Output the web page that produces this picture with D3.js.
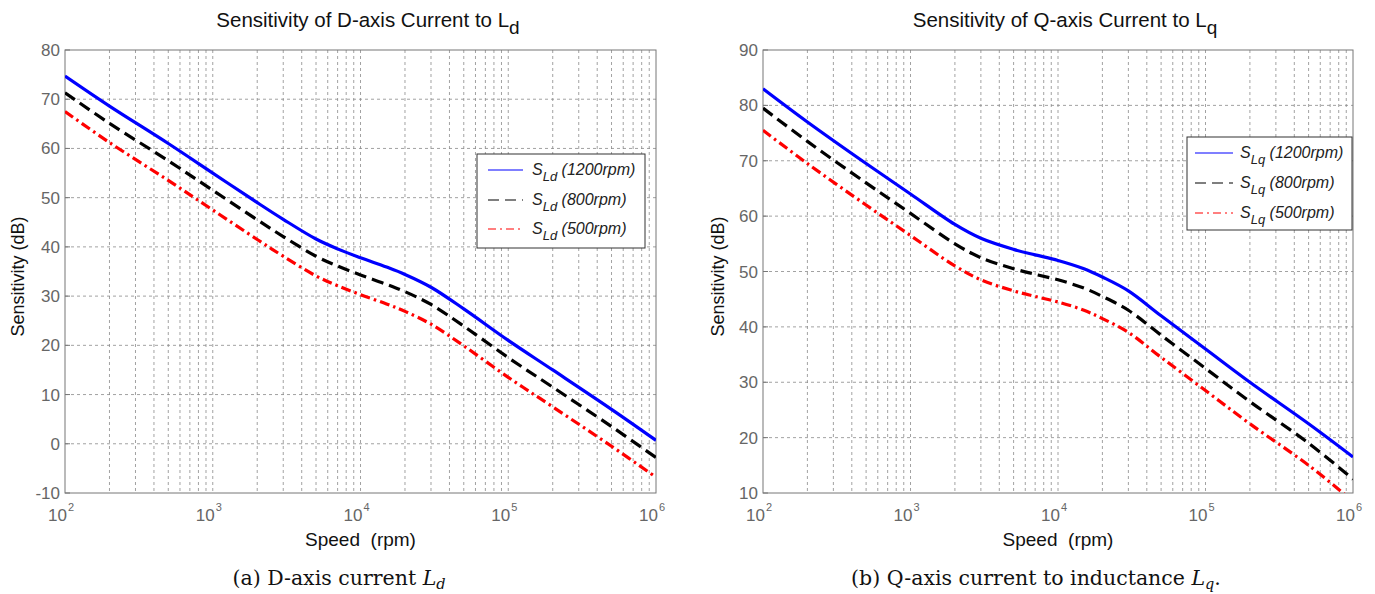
<!DOCTYPE html>
<html><head><meta charset="utf-8">
<script src="https://cdn.jsdelivr.net/npm/d3@7"></script>
<style>
body{margin:0;background:#fff;}
svg text{font-family:Arial,"Liberation Sans",sans-serif;}
</style></head>
<body>
<svg id="chart" width="1375" height="594"></svg>
<script>
// ---------- data ----------
const speeds = [100, 200, 500, 1000, 2000, 3000, 5000, 7000, 10000, 15000, 20000, 30000, 50000, 100000, 200000, 500000, 1000000];

const ld1200 = [74.7, 68.6, 61, 55, 49, 45.6, 41.6, 39.6, 37.8, 35.9, 34.4, 31.8, 27.4, 21, 15, 7, 0.7];
const ld800  = [71.3, 65.1, 57.5, 51.5, 45.5, 42.1, 38.1, 36.1, 34.3, 32.4, 30.9, 28.3, 23.9, 17.5, 11.5, 3.5, -2.8];
const ld500  = [67.5, 61.2, 53.5, 47.5, 41.5, 38.1, 34.1, 32.1, 30.3, 28.4, 26.9, 24.3, 19.9, 13.5, 7.5, -0.5, -6.8];

const lq1200 = [83, 77, 69.5, 64, 58.5, 56, 54, 53, 52, 50.5, 49, 46.5, 42, 36, 30, 22.5, 16.5];
const lq800  = [79.5, 73.5, 66, 60.5, 55, 52.5, 50.5, 49.5, 48.5, 47, 45.5, 43, 38.5, 32.5, 26.5, 19, 12.5];
const lq500  = [75.5, 69.5, 62, 56.5, 51, 48.5, 46.5, 45.5, 44.5, 43, 41.5, 39, 34.5, 28.5, 22.5, 15, 8.5];

const xTickExps = [2, 3, 4, 5, 6];
const ldYTicks = [-10, 0, 10, 20, 30, 40, 50, 60, 70, 80];
const lqYTicks = [10, 20, 30, 40, 50, 60, 70, 80, 90];
const seriesLabels = ["(1200rpm)", "(800rpm)", "(500rpm)"];

// ---------- drawing ----------
const svg = d3.select("#chart");
const styles = [
  {color: "#0000ff", dash: null, lw: 3.2, legDash: null},
  {color: "#000000", dash: "12,6", lw: 3.2, legDash: "11,6"},
  {color: "#ff0000", dash: "10,4,2.5,4", lw: 3.2, legDash: "8,4,2,4"}
];

function panel(opt) {
  const g = svg.append("g");
  const x = d3.scaleLog().domain([100, 1e6]).range([opt.x0, opt.x1]);
  const y = d3.scaleLinear().domain(opt.yDomain).range([opt.y1, opt.y0]);
  const clipId = "clip" + opt.id;
  svg.append("clipPath").attr("id", clipId).append("rect")
    .attr("x", opt.x0).attr("y", opt.y0).attr("width", opt.x1 - opt.x0).attr("height", opt.y1 - opt.y0);

  // vertical grid (log minor)
  const vgrid = [];
  for (let e = 2; e < 6; e++) for (let m = 1; m < 10; m++) vgrid.push(m * Math.pow(10, e));
  g.append("g").selectAll("line").data(vgrid.filter(v => v > 100)).join("line")
    .attr("x1", d => x(d)).attr("x2", d => x(d)).attr("y1", opt.y0).attr("y2", opt.y1)
    .attr("stroke", "#8a8a8a").attr("stroke-width", 0.8).attr("stroke-dasharray", "3,3");
  // horizontal grid
  g.append("g").selectAll("line").data(opt.yTicks.slice(1, -1)).join("line")
    .attr("x1", opt.x0).attr("x2", opt.x1).attr("y1", d => y(d)).attr("y2", d => y(d))
    .attr("stroke", "#8a8a8a").attr("stroke-width", 0.8).attr("stroke-dasharray", "3,3");

  // frame
  g.append("rect").attr("x", opt.x0).attr("y", opt.y0).attr("width", opt.x1 - opt.x0).attr("height", opt.y1 - opt.y0)
    .attr("fill", "none").attr("stroke", "#777").attr("stroke-width", 1);

  // y tick labels
  g.append("g").selectAll("text").data(opt.yTicks).join("text")
    .attr("x", opt.x0 - 5).attr("y", d => y(d) + 6).attr("text-anchor", "end")
    .attr("font-size", 17).attr("fill", "#666").text(d => d);
  // y ticks
  g.append("g").selectAll("line").data(opt.yTicks).join("line")
    .attr("x1", opt.x0).attr("x2", opt.x0 + 5).attr("y1", d => y(d)).attr("y2", d => y(d)).attr("stroke", "#777");

  // x tick labels 10^n
  const xt = g.append("g").selectAll("text").data(xTickExps).join("text")
    .attr("x", d => x(Math.pow(10, d)) - 4).attr("y", opt.y1 + 28).attr("text-anchor", "middle")
    .attr("font-size", 17).attr("fill", "#666");
  xt.append("tspan").text("10");
  xt.append("tspan").attr("dy", -10).attr("dx", 1).attr("font-size", 11).text(d => d);

  // lines
  const line = d3.line().x(d => x(d[0])).y(d => y(d[1])).curve(d3.curveCatmullRom.alpha(0.5));
  opt.series.forEach((vals, i) => {
    const pts = speeds.map((s, k) => [s, vals[k]]);
    g.append("path").datum(pts).attr("d", line).attr("clip-path", `url(#${clipId})`)
      .attr("fill", "none").attr("stroke", styles[i].color).attr("stroke-width", styles[i].lw)
      .attr("stroke-dasharray", styles[i].dash);
  });

  // title
  const t = g.append("text").attr("x", opt.titleX).attr("y", 27).attr("text-anchor", "middle")
    .attr("font-size", 20.5).attr("fill", "#111");
  t.append("tspan").text(opt.title);
  t.append("tspan").attr("dy", 7).attr("font-size", 19).text(opt.titleSub);

  // axis labels
  g.append("text").attr("transform", `translate(${opt.ylabX},${(opt.y0 + opt.y1) / 2 + 5}) rotate(-90)`)
    .attr("text-anchor", "middle").attr("font-size", 18).attr("fill", "#111").text("Sensitivity (dB)");
  g.append("text").attr("x", (opt.x0 + opt.x1) / 2).attr("y", 546).attr("text-anchor", "middle")
    .attr("font-size", 19).attr("fill", "#111").attr("xml:space", "preserve").text("Speed  (rpm)");

  // legend
  const L = opt.legend;
  const lg = g.append("g");
  lg.append("rect").attr("x", L.x).attr("y", L.y).attr("width", L.w).attr("height", L.h)
    .attr("fill", "#fff").attr("stroke", "#333").attr("stroke-width", 1);
  seriesLabels.forEach((lab, i) => {
    const yy = L.y + L.rows[i];
    lg.append("line").attr("x1", L.x + L.lx1).attr("x2", L.x + L.lx2).attr("y1", yy).attr("y2", yy)
      .attr("stroke", styles[i].color).attr("stroke-width", 1.2).attr("stroke-dasharray", styles[i].legDash);
    const tx = lg.append("text").attr("x", L.x + L.tx).attr("y", yy + 5).attr("font-size", 16)
      .attr("font-style", "italic").attr("fill", "#222").attr("xml:space", "preserve");
    tx.append("tspan").text("S");
    tx.append("tspan").attr("dy", 6).attr("font-size", 13).text(opt.sub);
    tx.append("tspan").attr("dy", -6).text(" " + lab);
  });

  // caption
  const c = g.append("text").attr("x", opt.capX).attr("y", 585).attr("text-anchor", "middle")
    .attr("font-size", 20.5).attr("fill", "#111").style("font-family", "'DejaVu Serif','Liberation Serif',serif");
  c.append("tspan").text(opt.cap);
  c.append("tspan").attr("font-style", "italic").text("L");
  c.append("tspan").attr("dy", 4).attr("font-size", 14.5).attr("font-style", "italic").text(opt.capSub);
  if (opt.capEnd) c.append("tspan").attr("dy", -4).text(opt.capEnd);
}

panel({
  id: "a", x0: 65, x1: 656, y0: 50, y1: 493, yDomain: [-10, 80], yTicks: ldYTicks,
  series: [ld1200, ld800, ld500], title: "Sensitivity of D-axis Current to L", titleSub: "d", titleX: 368,
  ylabX: 24, sub: "Ld",
  legend: {x: 477, y: 154, w: 168, h: 94, rows: [16, 46, 75], lx1: 11, lx2: 46, tx: 55},
  cap: "(a) D-axis current ", capSub: "d", capEnd: "", capX: 339
});
panel({
  id: "b", x0: 763, x1: 1353, y0: 50, y1: 493, yDomain: [10, 90], yTicks: lqYTicks,
  series: [lq1200, lq800, lq500], title: "Sensitivity of Q-axis Current to L", titleSub: "q", titleX: 1065,
  ylabX: 724, sub: "Lq",
  legend: {x: 1187, y: 137, w: 165, h: 93, rows: [16, 46, 76], lx1: 8, lx2: 46, tx: 53},
  cap: "(b) Q-axis current to inductance ", capSub: "q", capEnd: ".", capX: 1036
});
</script>
</body></html>
